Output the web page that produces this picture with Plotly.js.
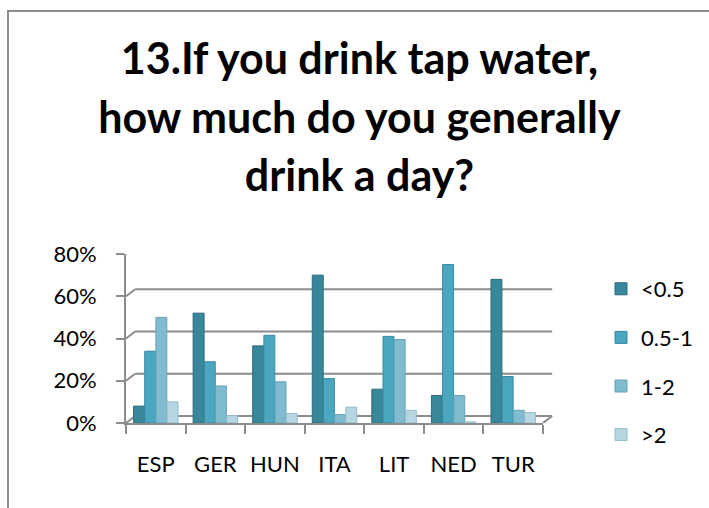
<!DOCTYPE html>
<html>
<head>
<meta charset="utf-8">
<script src="https://cdn.plot.ly/plotly-3.0.1.min.js"></script>
<style>
  html, body { margin: 0; padding: 0; background: #ffffff; }
  #wrap { position: relative; width: 709px; height: 508px; overflow: hidden; }
  #chart { position: absolute; left: 0; top: 0; width: 709px; height: 508px; }
  #frame { position: absolute; left: 7px; top: 10px; width: 760px; height: 560px;
           border: 2px solid #8c8c8c; pointer-events: none; box-sizing: border-box; }
</style>
</head>
<body>
<div id="wrap">
  <div id="chart"></div>
  <div id="frame"></div>
</div>
<script>
// ---- data ----
const categories = ["ESP", "GER", "HUN", "ITA", "LIT", "NED", "TUR"];
const seriesNames = ["<0.5", "0.5-1", "1-2", ">2"];
const lessHalf   = [0.08, 0.52, 0.365, 0.70, 0.16, 0.13, 0.68];
const halfToOne  = [0.34, 0.29, 0.415, 0.21, 0.41, 0.75, 0.22];
const oneToTwo   = [0.50, 0.175, 0.195, 0.04, 0.395, 0.13, 0.06];
const moreTwo    = [0.10, 0.035, 0.045, 0.075, 0.06, 0.005, 0.05];
const yTickValues = [0, 0.2, 0.4, 0.6, 0.8];
const titleLines = ["13.If you drink tap water,", "how much do you generally", "drink a day?"];

// ---- styles ----
const fills = ["#38879b", "#4ba6bf", "#80bbd0", "#b6d6e1"];
const edges = ["#2c6c7c", "#3a8aa0", "#64a3ba", "#93bccb"];
const gridColor = "#8c8c8c";
const depthX = 0.022;   // back-wall offset (paper fraction)
const depthPx = 7;      // back-wall offset (pixels, upward)

const allSeries = [lessHalf, halfToOne, oneToTwo, moreTwo];
const traces = allSeries.map((vals, i) => ({
  type: "bar",
  name: seriesNames[i],
  x: categories,
  y: vals,
  legendgroup: "g" + i,
  marker: { color: fills[i], line: { color: edges[i], width: 1 } },
  hoverinfo: "x+y+name"
}));

// decorative 3D frame: back-wall gridlines, connectors, floor
const shapes = [];
yTickValues.forEach(v => {
  shapes.push({ type: "line", layer: "below", xref: "paper", x0: depthX, x1: 1 + depthX,
    yref: "y", ysizemode: "pixel", yanchor: v, y0: depthPx, y1: depthPx,
    line: { color: gridColor, width: 2 } });
  shapes.push({ type: "line", layer: "below", xref: "paper", x0: 0, x1: depthX,
    yref: "y", ysizemode: "pixel", yanchor: v, y0: 0, y1: depthPx,
    line: { color: gridColor, width: 2 } });
});
// right edge of floor
shapes.push({ type: "line", layer: "below", xref: "paper", x0: 1, x1: 1 + depthX,
  yref: "y", ysizemode: "pixel", yanchor: 0, y0: 0, y1: depthPx,
  line: { color: gridColor, width: 2 } });

const titleText = titleLines.map(t => "<span style='font-size:43px'>" + t + "</span>").join("<br>");

const layout = {
  width: 709, height: 508,
  paper_bgcolor: "#ffffff", plot_bgcolor: "rgba(0,0,0,0)",
  margin: { l: 126, r: 166, t: 254, b: 85 },
  font: { family: "Lato, 'Liberation Sans', sans-serif", color: "#000000" },
  title: {
    text: titleText,
    font: { family: "Lato, sans-serif", size: 45, weight: 700, color: "#000000" },
    xref: "container", yref: "container", x: 0.507, xanchor: "center",
    y: 1 - 74 / 508, yanchor: "top"
  },
  barmode: "group", bargap: 0.25, bargroupgap: 0.02,
  xaxis: {
    type: "category",
    showline: true, linecolor: gridColor, linewidth: 2,
    ticks: "outside", tickson: "boundaries", ticklen: 9, tickwidth: 2, tickcolor: gridColor,
    showgrid: false, zeroline: false, tickangle: 0,
    tickfont: { family: "Lato, sans-serif", size: 22, color: "#000000" },
    ticklabelstandoff: 21
  },
  yaxis: {
    range: [0, 0.8], tickvals: yTickValues, tickformat: ".0%",
    showline: true, linecolor: gridColor, linewidth: 2,
    ticks: "outside", ticklen: 8, tickwidth: 2, tickcolor: gridColor,
    showgrid: false, zeroline: false,
    tickfont: { family: "Lato, sans-serif", size: 22, color: "#000000" },
    ticklabelstandoff: 15
  },
  legend: {
    xref: "container", yref: "container", x: 601 / 709, xanchor: "left",
    y: 1 - 268 / 508, yanchor: "top",
    font: { family: "Lato, sans-serif", size: 22, color: "#000000" },
    tracegroupgap: 17, traceorder: "grouped", bgcolor: "rgba(0,0,0,0)"
  },
  shapes: shapes,
  showlegend: true
};

Plotly.newPlot("chart", traces, layout, { displayModeBar: false, staticPlot: false });
</script>
</body>
</html>
